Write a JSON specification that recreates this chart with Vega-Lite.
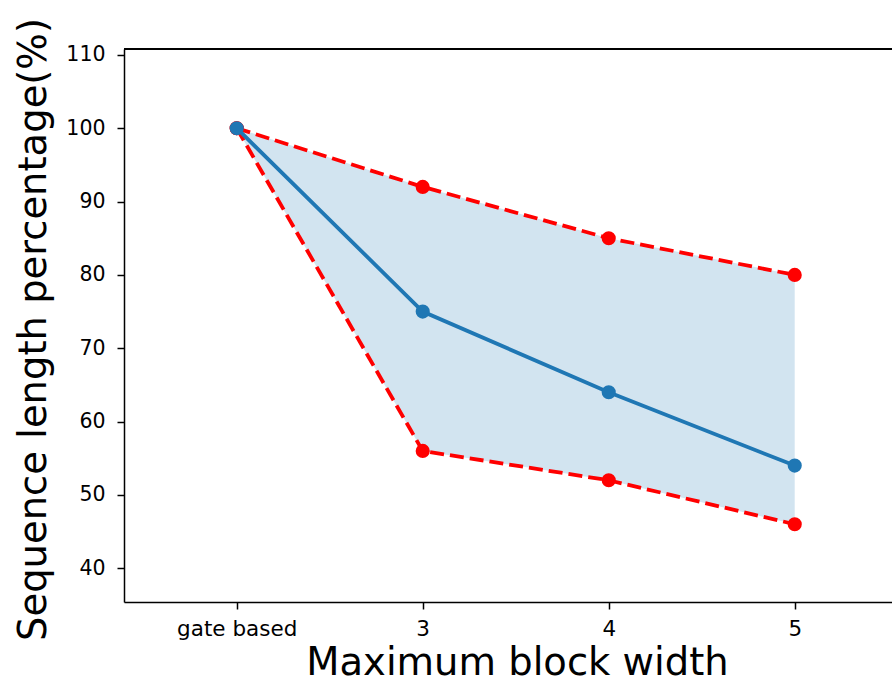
{
  "$schema": "https://vega.github.io/schema/vega-lite/v6.json",
  "autosize": {"type": "none"},
  "padding": {"left": 124, "top": 49, "right": 0, "bottom": 78},
  "width": 768,
  "height": 553,
  "background": "white",
  "config": {
    "view": {"stroke": null},
    "font": "DejaVu Sans",
    "axis": {
      "labelFont": "DejaVu Sans",
      "labelFontSize": 20.5,
      "labelColor": "black",
      "titleFont": "DejaVu Sans",
      "titleFontSize": 38.5,
      "titleFontWeight": "normal",
      "titleColor": "black",
      "domainColor": "black",
      "domainWidth": 1.5,
      "tickColor": "black",
      "tickWidth": 1.5,
      "tickSize": 7,
      "grid": false
    }
  },
  "data": {
    "values": [
      {"x": 0, "mean": 100, "lower": 100, "upper": 100},
      {"x": 1, "mean": 75, "lower": 56, "upper": 92},
      {"x": 2, "mean": 64, "lower": 52, "upper": 85},
      {"x": 3, "mean": 54, "lower": 46, "upper": 80}
    ]
  },
  "layer": [
    {
      "mark": {"type": "area", "color": "#1f77b4", "opacity": 0.2},
      "encoding": {
        "x": {
          "field": "x",
          "type": "quantitative",
          "scale": {"domain": [-0.606, 3.523], "nice": false, "zero": false},
          "axis": {
            "title": "Maximum block width",
            "values": [0, 1, 2, 3],
            "labelExpr": "datum.value == 0 ? 'gate based' : datum.value == 1 ? '3' : datum.value == 2 ? '4' : '5'",
            "labelFontSize": 21.5,
            "labelBaseline": "alphabetic",
            "labelPadding": 26,
            "labelFlush": false,
            "labelOverlap": false,
            "titleX": 393,
            "titleY": 72,
            "titleAnchor": "middle",
            "titleAlign": "center",
            "titleBaseline": "alphabetic"
          }
        },
        "y": {
          "field": "lower",
          "type": "quantitative",
          "scale": {"domain": [35.4, 110.8], "nice": false, "zero": false},
          "axis": {
            "title": "Sequence length percentage(%)",
            "values": [40, 50, 60, 70, 80, 90, 100, 110],
            "labelPadding": 12,
            "titleAngle": -90,
            "titleX": -79,
            "titleY": 280,
            "titleAlign": "center",
            "titleBaseline": "alphabetic"
          }
        },
        "y2": {"field": "upper"}
      }
    },
    {
      "mark": {"type": "line", "color": "red", "strokeWidth": 3.8, "strokeDash": [14, 6], "point": {"filled": true, "size": 200, "color": "red", "opacity": 1}},
      "encoding": {
        "x": {"field": "x", "type": "quantitative"},
        "y": {"field": "upper", "type": "quantitative"}
      }
    },
    {
      "mark": {"type": "line", "color": "red", "strokeWidth": 3.8, "strokeDash": [14, 6], "point": {"filled": true, "size": 200, "color": "red", "opacity": 1}},
      "encoding": {
        "x": {"field": "x", "type": "quantitative"},
        "y": {"field": "lower", "type": "quantitative"}
      }
    },
    {
      "mark": {"type": "line", "color": "#1f77b4", "strokeWidth": 3.8, "point": {"filled": true, "size": 200, "color": "#1f77b4", "opacity": 1}},
      "encoding": {
        "x": {"field": "x", "type": "quantitative"},
        "y": {"field": "mean", "type": "quantitative"}
      }
    },
    {
      "mark": {"type": "rule", "color": "black", "strokeWidth": 1.5},
      "encoding": {"y": {"datum": 110.8, "type": "quantitative"}}
    }
  ]
}
